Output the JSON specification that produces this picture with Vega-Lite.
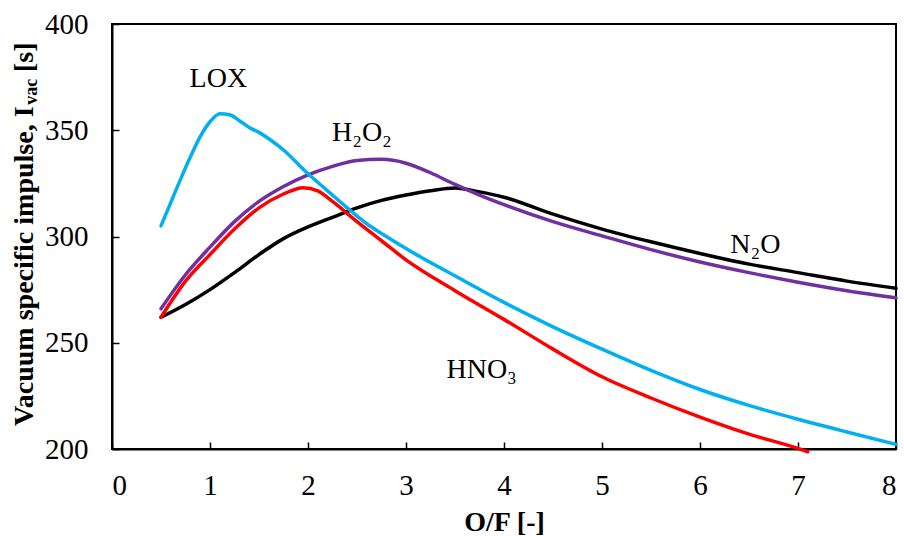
{
  "$schema": "https://vega.github.io/schema/vega-lite/v6.json",
  "width": 784,
  "height": 425,
  "autosize": {"type": "none"},
  "padding": {"left": 112, "top": 24, "right": 8, "bottom": 87},
  "background": "white",
  "config": {
    "font": "Liberation Serif",
    "view": {"stroke": "#000000", "strokeWidth": 2},
    "axis": {
      "grid": false,
      "domainColor": "#000000",
      "domainWidth": 2,
      "tickColor": "#000000",
      "tickWidth": 1.5,
      "tickSize": -7,
      "labelFont": "Liberation Serif",
      "labelFontSize": 29,
      "labelColor": "#000000",
      "titleFont": "Liberation Serif",
      "titleFontSize": 28,
      "titleFontWeight": "bold",
      "titleColor": "#000000"
    }
  },
  "datasets": {
    "curves": [
      {"oxidizer": "N2O", "of": 0.5, "isp": 262},
      {"oxidizer": "N2O", "of": 0.75, "isp": 268},
      {"oxidizer": "N2O", "of": 1.0, "isp": 275},
      {"oxidizer": "N2O", "of": 1.25, "isp": 283},
      {"oxidizer": "N2O", "of": 1.5, "isp": 291.5},
      {"oxidizer": "N2O", "of": 1.75, "isp": 299},
      {"oxidizer": "N2O", "of": 2.0, "isp": 304.5},
      {"oxidizer": "N2O", "of": 2.25, "isp": 309},
      {"oxidizer": "N2O", "of": 2.5, "isp": 313.5},
      {"oxidizer": "N2O", "of": 2.75, "isp": 317},
      {"oxidizer": "N2O", "of": 3.0, "isp": 319.5},
      {"oxidizer": "N2O", "of": 3.25, "isp": 321.5},
      {"oxidizer": "N2O", "of": 3.5, "isp": 322.8},
      {"oxidizer": "N2O", "of": 3.75, "isp": 321},
      {"oxidizer": "N2O", "of": 4.0, "isp": 318.5},
      {"oxidizer": "N2O", "of": 4.5, "isp": 310.5},
      {"oxidizer": "N2O", "of": 5.0, "isp": 303.5},
      {"oxidizer": "N2O", "of": 5.5, "isp": 297.5},
      {"oxidizer": "N2O", "of": 6.0, "isp": 292},
      {"oxidizer": "N2O", "of": 6.5, "isp": 287},
      {"oxidizer": "N2O", "of": 7.0, "isp": 283},
      {"oxidizer": "N2O", "of": 7.5, "isp": 279},
      {"oxidizer": "N2O", "of": 8.0, "isp": 275.6},

      {"oxidizer": "H2O2", "of": 0.5, "isp": 266},
      {"oxidizer": "H2O2", "of": 0.75, "isp": 282},
      {"oxidizer": "H2O2", "of": 1.0, "isp": 295},
      {"oxidizer": "H2O2", "of": 1.25, "isp": 307},
      {"oxidizer": "H2O2", "of": 1.5, "isp": 316.5},
      {"oxidizer": "H2O2", "of": 1.75, "isp": 323.5},
      {"oxidizer": "H2O2", "of": 2.0, "isp": 329},
      {"oxidizer": "H2O2", "of": 2.25, "isp": 333},
      {"oxidizer": "H2O2", "of": 2.5, "isp": 335.8},
      {"oxidizer": "H2O2", "of": 2.75, "isp": 336.3},
      {"oxidizer": "H2O2", "of": 3.0, "isp": 334.5},
      {"oxidizer": "H2O2", "of": 3.25, "isp": 330},
      {"oxidizer": "H2O2", "of": 3.5, "isp": 324.5},
      {"oxidizer": "H2O2", "of": 3.75, "isp": 319.5},
      {"oxidizer": "H2O2", "of": 4.0, "isp": 315},
      {"oxidizer": "H2O2", "of": 4.5, "isp": 307},
      {"oxidizer": "H2O2", "of": 5.0, "isp": 300.3},
      {"oxidizer": "H2O2", "of": 5.5, "isp": 293.8},
      {"oxidizer": "H2O2", "of": 6.0, "isp": 288},
      {"oxidizer": "H2O2", "of": 6.5, "isp": 283},
      {"oxidizer": "H2O2", "of": 7.0, "isp": 278.5},
      {"oxidizer": "H2O2", "of": 7.5, "isp": 274.5},
      {"oxidizer": "H2O2", "of": 8.0, "isp": 271.2},

      {"oxidizer": "HNO3", "of": 0.5, "isp": 262},
      {"oxidizer": "HNO3", "of": 0.75, "isp": 279},
      {"oxidizer": "HNO3", "of": 1.0, "isp": 291.5},
      {"oxidizer": "HNO3", "of": 1.25, "isp": 303.5},
      {"oxidizer": "HNO3", "of": 1.5, "isp": 313.5},
      {"oxidizer": "HNO3", "of": 1.75, "isp": 320},
      {"oxidizer": "HNO3", "of": 1.95, "isp": 323},
      {"oxidizer": "HNO3", "of": 2.1, "isp": 321.5},
      {"oxidizer": "HNO3", "of": 2.25, "isp": 316.5},
      {"oxidizer": "HNO3", "of": 2.5, "isp": 307},
      {"oxidizer": "HNO3", "of": 2.75, "isp": 298},
      {"oxidizer": "HNO3", "of": 3.0, "isp": 289},
      {"oxidizer": "HNO3", "of": 3.5, "isp": 274.5},
      {"oxidizer": "HNO3", "of": 4.0, "isp": 261},
      {"oxidizer": "HNO3", "of": 4.5, "isp": 247},
      {"oxidizer": "HNO3", "of": 5.0, "isp": 234},
      {"oxidizer": "HNO3", "of": 5.5, "isp": 224},
      {"oxidizer": "HNO3", "of": 6.0, "isp": 215},
      {"oxidizer": "HNO3", "of": 6.5, "isp": 207},
      {"oxidizer": "HNO3", "of": 7.0, "isp": 200.3},
      {"oxidizer": "HNO3", "of": 7.1, "isp": 198.7},

      {"oxidizer": "LOX", "of": 0.5, "isp": 305},
      {"oxidizer": "LOX", "of": 0.6, "isp": 316},
      {"oxidizer": "LOX", "of": 0.7, "isp": 327},
      {"oxidizer": "LOX", "of": 0.8, "isp": 337.5},
      {"oxidizer": "LOX", "of": 0.9, "isp": 347},
      {"oxidizer": "LOX", "of": 1.0, "isp": 354},
      {"oxidizer": "LOX", "of": 1.1, "isp": 357.8},
      {"oxidizer": "LOX", "of": 1.2, "isp": 357.3},
      {"oxidizer": "LOX", "of": 1.3, "isp": 354.5},
      {"oxidizer": "LOX", "of": 1.4, "isp": 351.3},
      {"oxidizer": "LOX", "of": 1.5, "isp": 349},
      {"oxidizer": "LOX", "of": 1.6, "isp": 346},
      {"oxidizer": "LOX", "of": 1.75, "isp": 340.7},
      {"oxidizer": "LOX", "of": 2.0, "isp": 329.5},
      {"oxidizer": "LOX", "of": 2.2, "isp": 321.5},
      {"oxidizer": "LOX", "of": 2.4, "isp": 313.5},
      {"oxidizer": "LOX", "of": 2.6, "isp": 306},
      {"oxidizer": "LOX", "of": 2.8, "isp": 300},
      {"oxidizer": "LOX", "of": 3.0, "isp": 294.3},
      {"oxidizer": "LOX", "of": 3.5, "isp": 281.5},
      {"oxidizer": "LOX", "of": 4.0, "isp": 269},
      {"oxidizer": "LOX", "of": 4.5, "isp": 257.5},
      {"oxidizer": "LOX", "of": 5.0, "isp": 247},
      {"oxidizer": "LOX", "of": 5.5, "isp": 237},
      {"oxidizer": "LOX", "of": 6.0, "isp": 228},
      {"oxidizer": "LOX", "of": 6.5, "isp": 220.5},
      {"oxidizer": "LOX", "of": 7.0, "isp": 214},
      {"oxidizer": "LOX", "of": 7.5, "isp": 208},
      {"oxidizer": "LOX", "of": 8.0, "isp": 202.2}
    ],
    "curveLabels": [
      {"label": "LOX", "of": 1.085, "isp": 370.2},
      {"label": "H₂O₂", "of": 2.55, "isp": 345.1},
      {"label": "N₂O", "of": 6.566, "isp": 292.4},
      {"label": "HNO₃", "of": 3.772, "isp": 233.6}
    ],
    "yTitleMain": [
      {"text": "Vacuum specific impulse, I", "of": -0.806, "isp": 361.2}
    ],
    "yTitleUnit": [
      {"text": "[s]", "of": -0.806, "isp": 377.4}
    ],
    "yTitleSub": [
      {"text": "vac", "of": -0.765, "isp": 362}
    ]
  },
  "encoding": {
    "x": {
      "field": "of",
      "type": "quantitative",
      "scale": {"domain": [0, 8], "nice": false, "zero": false},
      "axis": {"values": [0, 1, 2, 3, 4, 5, 6, 7, 8], "title": "O/F [-]", "labelFont": "Liberation Serif", "labelPadding": 29, "titlePadding": 8}
    },
    "y": {
      "field": "isp",
      "type": "quantitative",
      "scale": {"domain": [200, 400], "nice": false, "zero": false},
      "axis": {"values": [200, 250, 300, 350, 400], "title": null, "labelFont": "Liberation Serif", "labelPadding": 31}
    }
  },
  "layer": [
    {
      "data": {"name": "curves"},
      "mark": {"type": "line", "interpolate": "monotone", "strokeWidth": 3.5, "strokeCap": "round", "strokeJoin": "round"},
      "encoding": {
        "color": {
          "field": "oxidizer",
          "type": "nominal",
          "scale": {"domain": ["N2O", "H2O2", "HNO3", "LOX"], "range": ["#000000", "#7030A0", "#FF0000", "#00B0F0"]},
          "legend": null
        },
        "order": {"field": "of", "type": "quantitative"}
      }
    },
    {
      "data": {"name": "curveLabels"},
      "mark": {"type": "text", "font": "Liberation Serif", "fontSize": 28, "align": "center", "baseline": "alphabetic", "color": "#000000"},
      "encoding": {"text": {"field": "label"}}
    },
    {
      "data": {"name": "yTitleMain"},
      "mark": {"type": "text", "font": "Liberation Serif", "fontSize": 28, "fontWeight": "bold", "angle": 270, "align": "right", "baseline": "alphabetic", "color": "#000000"},
      "encoding": {"text": {"field": "text"}}
    },
    {
      "data": {"name": "yTitleUnit"},
      "mark": {"type": "text", "font": "Liberation Serif", "fontSize": 28, "fontWeight": "bold", "angle": 270, "align": "left", "baseline": "alphabetic", "color": "#000000"},
      "encoding": {"text": {"field": "text"}}
    },
    {
      "data": {"name": "yTitleSub"},
      "mark": {"type": "text", "font": "Liberation Serif", "fontSize": 18, "fontWeight": "bold", "angle": 270, "align": "left", "baseline": "alphabetic", "color": "#000000"},
      "encoding": {"text": {"field": "text"}}
    }
  ]
}
